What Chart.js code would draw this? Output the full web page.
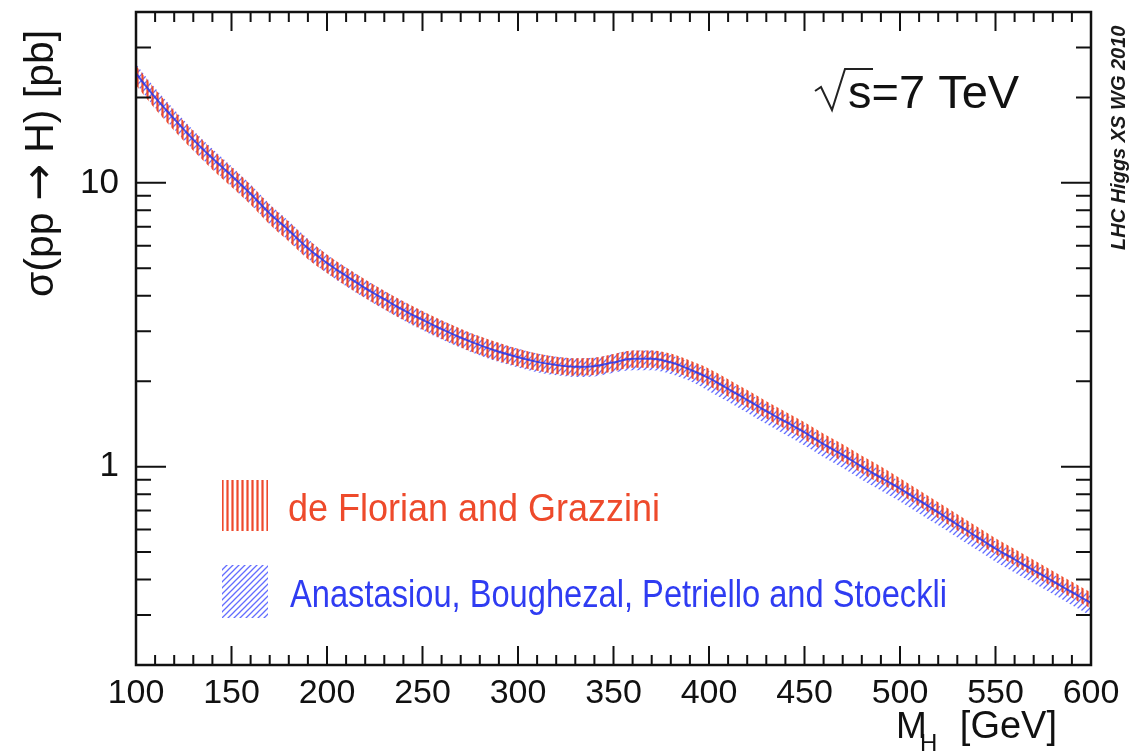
<!DOCTYPE html>
<html>
<head>
<meta charset="utf-8">
<style>
  html, body { margin: 0; padding: 0; background: #fff; }
  #xsec { display: block; }
</style>
<script src="https://cdn.jsdelivr.net/npm/chart.js@4.4.1/dist/chart.umd.min.js"></script>
</head>
<body>
<canvas id="xsec" width="1148" height="752"></canvas>
<script>
// Higgs mass points (GeV)
var mass = [100, 110, 120, 130, 140, 150, 160, 170, 180, 190,
  200, 210, 220, 230, 240, 250, 260, 270, 280, 290,
  300, 310, 320, 330, 340, 350, 360, 370, 380, 390,
  400, 410, 420, 430, 440, 450, 460, 470, 480, 490,
  500, 510, 520, 530, 540, 550, 560, 570, 580, 590, 600];

// de Florian and Grazzini, central value (pb) and band half-width (%)
var dfgXsec = [24.0, 19.8, 16.6, 14.1, 12.1, 10.5, 9.1, 7.75, 6.75, 5.85,
  5.2, 4.68, 4.25, 3.88, 3.56, 3.29, 3.05, 2.85, 2.68, 2.54,
  2.43, 2.34, 2.28, 2.25, 2.26, 2.33, 2.40, 2.40, 2.34, 2.21,
  2.07, 1.90, 1.74, 1.59, 1.46, 1.34, 1.22, 1.12, 1.02, 0.935,
  0.855, 0.776, 0.704, 0.638, 0.579, 0.525, 0.481, 0.440, 0.403, 0.369, 0.338];
var dfgErr = [8, 8, 8, 8, 8, 8, 8, 8, 8, 8,
  7.5, 7.5, 7.5, 7.5, 7.5, 7.5, 7.5, 7.5, 7.5, 7.5,
  7, 7, 7, 7, 7, 7, 7, 7, 7, 7,
  7, 7, 7, 7, 7, 7, 7, 7, 7, 7,
  6.5, 6.5, 6.5, 6.5, 6.5, 6.5, 6.5, 6.5, 6.5, 6.5, 6.5];

// Anastasiou, Boughezal, Petriello and Stoeckli, central value (pb) and band (%)
var abpsXsec = [24.3, 20.0, 16.8, 14.2, 12.2, 10.6, 9.15, 7.8, 6.8, 5.88,
  5.22, 4.7, 4.26, 3.89, 3.56, 3.29, 3.05, 2.85, 2.68, 2.54,
  2.43, 2.34, 2.28, 2.25, 2.26, 2.33, 2.40, 2.40, 2.33, 2.20,
  2.05, 1.88, 1.72, 1.57, 1.44, 1.32, 1.20, 1.10, 1.00, 0.915,
  0.837, 0.760, 0.690, 0.625, 0.567, 0.514, 0.471, 0.431, 0.395, 0.361, 0.331];
var abpsErrUp = [8, 8, 8, 8, 8, 8, 8, 8, 8, 8,
  7, 7, 7, 7, 7, 7, 7, 7, 7, 7,
  7, 7, 7, 7, 7, 7, 7, 7, 6, 6,
  6, 6, 6, 6, 6, 6, 6, 6, 6, 6,
  6, 6, 6, 6, 6, 6, 6, 6, 6, 6, 6];
var abpsErrDn = [8, 8, 8, 8, 8, 8, 8, 8, 8, 8,
  8, 8, 8, 8, 8, 8, 8, 8, 8, 8,
  8, 8, 8, 8, 8, 8, 9, 9, 9, 9,
  10, 10, 10, 10, 10, 10, 10, 10, 10, 10,
  10, 10, 10, 10, 10, 10, 10, 10, 10, 10, 10];

// axis ticks
var xTickStep = 50;
var xMinorStep = 10;
var yTickLabels = [1, 10];
var yMinorTicks = [0.2, 0.3, 0.4, 0.5, 0.6, 0.7, 0.8, 0.9,
  2, 3, 4, 5, 6, 7, 8, 9, 20, 30, 40];

var RED = '#ee4a2b';
var BLUE = '#2f3cf2';
var FONT = "'Liberation Sans', Arial, Helvetica, sans-serif";

var canvas = document.getElementById('xsec');
var ctx = canvas.getContext('2d');

// red vertical hatching
function redHatch() {
  var t = document.createElement('canvas');
  t.width = 5; t.height = 5;
  var g = t.getContext('2d');
  g.fillStyle = RED;
  g.fillRect(1.4, 0, 2.2, 5);
  return ctx.createPattern(t, 'repeat');
}

// blue diagonal hatching
function blueHatch() {
  var t = document.createElement('canvas');
  t.width = 6; t.height = 6;
  var g = t.getContext('2d');
  g.strokeStyle = 'rgba(60,72,255,0.8)';
  g.lineWidth = 1.3;
  g.beginPath();
  g.moveTo(0, 6); g.lineTo(6, 0);
  g.moveTo(-1, 1); g.lineTo(1, -1);
  g.moveTo(5, 7); g.lineTo(7, 5);
  g.stroke();
  return ctx.createPattern(t, 'repeat');
}

var redFill = redHatch();
var blueFill = blueHatch();

function pts(vals, errs, sign) {
  return mass.map(function (m, i) {
    var f = errs ? 1 + sign * errs[i] / 100 : 1;
    return { x: m, y: vals[i] * f };
  });
}

// draws text pieces (text, font) in a row, squeezed to a given width
function drawPieces(c, pieces, width) {
  var total = 0;
  pieces.forEach(function (p) { c.font = p[1]; total += c.measureText(p[0]).width; });
  c.save();
  c.scale(Math.min(1, width / total), 1);
  var x = 0;
  pieces.forEach(function (p) {
    c.font = p[1];
    c.fillText(p[0], x, 0);
    x += c.measureText(p[0]).width;
  });
  c.restore();
}

// frame, inside ticks, labels and legend
var decorations = {
  id: 'decorations',
  afterDatasetsDraw: function (chart) {
    var c = chart.ctx, a = chart.chartArea;
    var xs = chart.scales.x, ys = chart.scales.y;
    c.save();
    c.strokeStyle = '#111';
    c.lineWidth = 2;
    c.beginPath();
    for (var m = xs.min; m <= xs.max; m += xMinorStep) {
      var px = xs.getPixelForValue(m);
      var len = (m % xTickStep === 0) ? 19 : 10;
      c.moveTo(px, a.bottom); c.lineTo(px, a.bottom - len);
      c.moveTo(px, a.top); c.lineTo(px, a.top + len);
    }
    yTickLabels.concat(yMinorTicks).forEach(function (v) {
      var py = ys.getPixelForValue(v);
      var len = yTickLabels.indexOf(v) >= 0 ? 30 : 15;
      c.moveTo(a.left, py); c.lineTo(a.left + len, py);
      c.moveTo(a.right, py); c.lineTo(a.right - len, py);
    });
    c.stroke();
    c.lineWidth = 2.5;
    c.strokeRect(a.left, a.top, a.right - a.left, a.bottom - a.top);
    c.restore();
  },
  afterDraw: function (chart) {
    var c = chart.ctx;
    c.save();
    c.fillStyle = '#111';
    c.textBaseline = 'alphabetic';
    c.textAlign = 'left';

    // y axis title
    c.save();
    c.translate(53, 297);
    c.rotate(-Math.PI / 2);
    drawPieces(c, [
      ['σ(pp ', '41px ' + FONT],
      ['→', "44px 'DejaVu Sans', sans-serif"],
      [' H) [pb]', '41px ' + FONT]
    ], 275);
    c.restore();

    // x axis title
    c.font = '37px ' + FONT;
    c.fillText('M', 896, 738);
    c.font = '24px ' + FONT;
    c.fillText('H', 920, 751);
    c.font = '38px ' + FONT;
    c.textAlign = 'right';
    c.fillText('[GeV]', 1057, 738);

    // centre-of-mass energy
    c.textAlign = 'left';
    c.font = '47px ' + FONT;
    c.fillText('s=7 TeV', 848, 108, 176);
    c.strokeStyle = '#222';
    c.lineWidth = 2;
    c.beginPath();
    c.moveTo(815, 91);
    c.lineTo(821, 87);
    c.lineTo(832, 110);
    c.lineTo(845, 69);
    c.lineTo(873, 69);
    c.stroke();

    // working group tag
    c.save();
    c.translate(1125, 250);
    c.rotate(-Math.PI / 2);
    c.font = 'italic bold 20px ' + FONT;
    c.fillStyle = '#1a1a1a';
    c.fillText('LHC Higgs XS WG 2010', 0, 0, 235);
    c.restore();

    // legend
    c.fillStyle = redFill;
    c.fillRect(222, 480, 46, 51);
    c.fillStyle = blueFill;
    c.fillRect(222, 565, 46, 53);
    c.font = '38px ' + FONT;
    c.fillStyle = RED;
    c.fillText('de Florian and Grazzini', 288, 521, 372);
    c.fillStyle = BLUE;
    c.fillText('Anastasiou, Boughezal, Petriello and Stoeckli', 290, 607, 657);
    c.restore();
  }
};

new Chart(ctx, {
  type: 'line',
  data: {
    datasets: [
      {
        label: 'Anastasiou, Boughezal, Petriello and Stoeckli',
        data: pts(abpsXsec),
        borderColor: 'rgba(40,55,235,0.85)',
        borderWidth: 2,
        fill: false,
        order: 0
      },
      {
        label: 'de Florian and Grazzini',
        data: pts(dfgXsec, dfgErr, 1),
        borderWidth: 0,
        backgroundColor: redFill,
        fill: '+1',
        order: 1
      },
      {
        label: 'dfg-low',
        data: pts(dfgXsec, dfgErr, -1),
        borderWidth: 0,
        fill: false,
        order: 1
      },
      {
        label: 'abps-high',
        data: pts(abpsXsec, abpsErrUp, 1),
        borderWidth: 0,
        backgroundColor: blueFill,
        fill: '+1',
        order: 2
      },
      {
        label: 'abps-low',
        data: pts(abpsXsec, abpsErrDn, -1),
        borderWidth: 0,
        fill: false,
        order: 2
      }
    ]
  },
  options: {
    responsive: false,
    animation: false,
    devicePixelRatio: 1,
    layout: { padding: { left: 0, top: 12, right: 57, bottom: 0 } },
    elements: {
      point: { radius: 0 },
      line: { tension: 0.3, cubicInterpolationMode: 'monotone' }
    },
    plugins: {
      legend: { display: false },
      tooltip: { enabled: false }
    },
    scales: {
      x: {
        type: 'linear',
        min: 100,
        max: 600,
        grid: { display: false },
        border: { display: false },
        ticks: {
          stepSize: xTickStep,
          color: '#111',
          padding: 0,
          maxRotation: 0,
          font: { family: FONT, size: 34 }
        },
        afterFit: function (s) {
          s.height = 87;
          s.paddingLeft = 0;
          s.paddingRight = 0;
        }
      },
      y: {
        type: 'logarithmic',
        min: 0.2,
        max: 40,
        grid: { display: false },
        border: { display: false },
        ticks: {
          color: '#111',
          padding: 9,
          font: { family: FONT, size: 35 },
          callback: function (v) { return String(v); }
        },
        afterBuildTicks: function (s) {
          s.ticks = yTickLabels.map(function (v) { return { value: v }; });
        },
        afterFit: function (s) {
          s.width = 136;
          s.paddingTop = 0;
          s.paddingBottom = 0;
        }
      }
    }
  },
  plugins: [decorations]
});
</script>
</body>
</html>
